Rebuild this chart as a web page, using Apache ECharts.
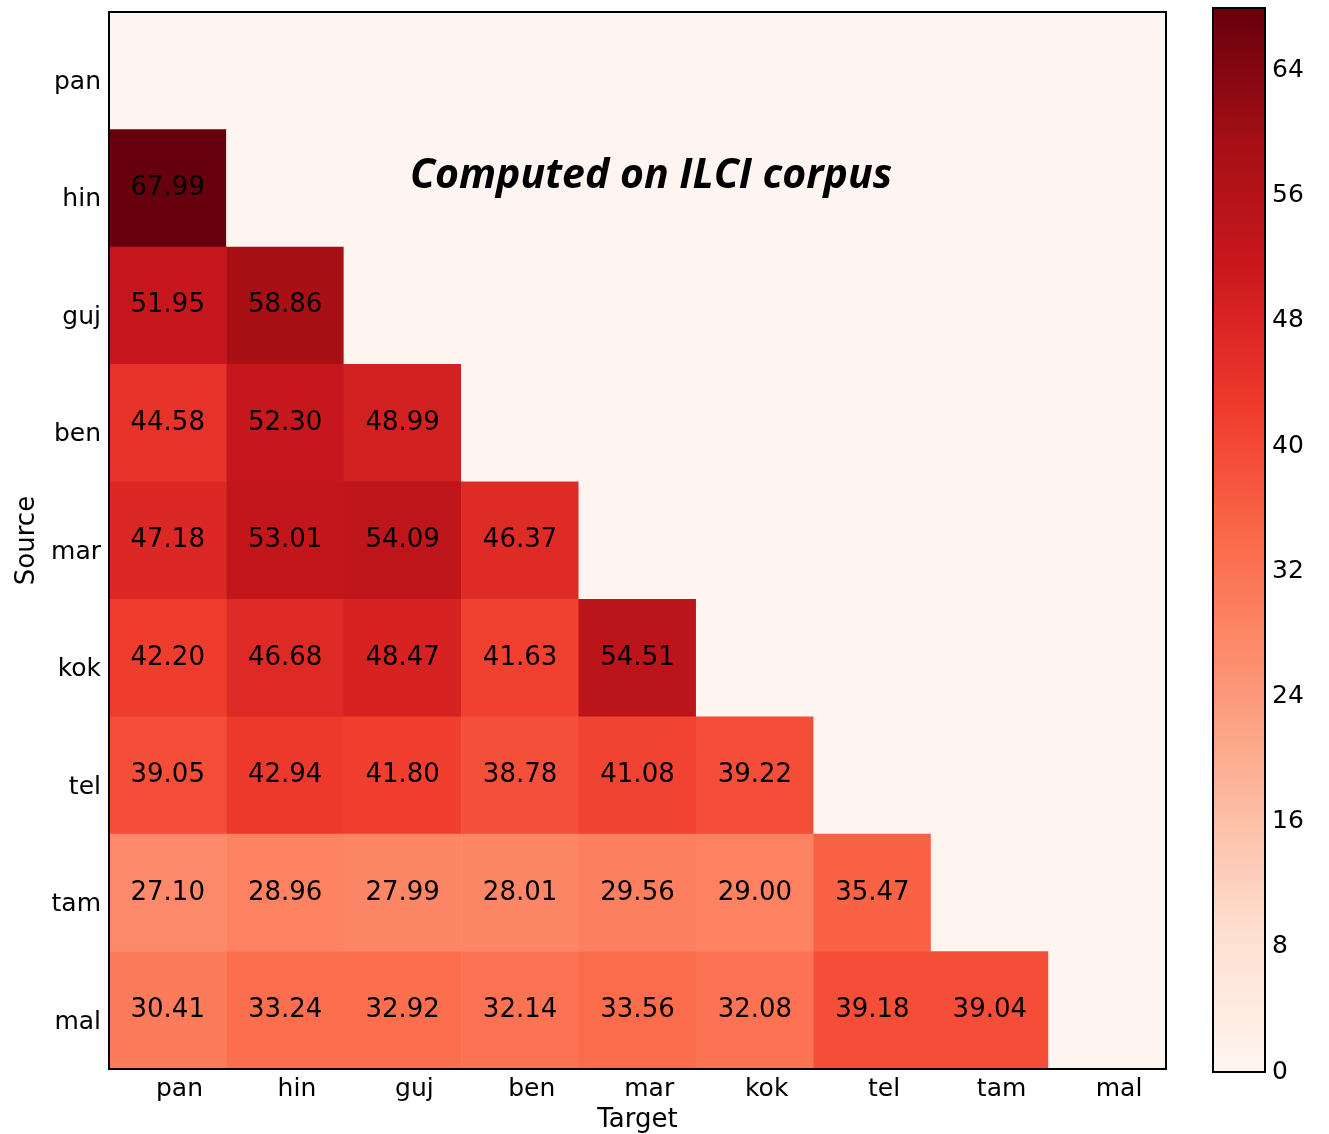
<!DOCTYPE html>
<html>
<head>
<meta charset="utf-8">
<script src="https://cdn.jsdelivr.net/npm/echarts@6/dist/echarts.min.js"></script>
<style>
  html, body { margin: 0; padding: 0; background: #ffffff; }
  #chart { width: 1329px; height: 1134px; }
</style>
</head>
<body>
<div id="chart"></div>
<script>
// Languages, used for both source (rows) and target (columns)
const languages = ['pan', 'hin', 'guj', 'ben', 'mar', 'kok', 'tel', 'tam', 'mal'];

// Scores per source language, one entry per target language before it
const rowPan = [];
const rowHin = [67.99];
const rowGuj = [51.95, 58.86];
const rowBen = [44.58, 52.30, 48.99];
const rowMar = [47.18, 53.01, 54.09, 46.37];
const rowKok = [42.20, 46.68, 48.47, 41.63, 54.51];
const rowTel = [39.05, 42.94, 41.80, 38.78, 41.08, 39.22];
const rowTam = [27.10, 28.96, 27.99, 28.01, 29.56, 29.00, 35.47];
const rowMal = [30.41, 33.24, 32.92, 32.14, 33.56, 32.08, 39.18, 39.04];

// Colour bar tick labels
const colorbarTicks = [0, 8, 16, 24, 32, 40, 48, 56, 64];

const scoreRows = [rowPan, rowHin, rowGuj, rowBen, rowMar, rowKok, rowTel, rowTam, rowMal];

// Full matrix: cells on or above the diagonal hold 0
const cells = [];
let maxScore = 0;
scoreRows.forEach((row, y) => {
  languages.forEach((_, x) => {
    const v = x < row.length ? row[x] : 0;
    maxScore = Math.max(maxScore, v);
    cells.push([x, y, v]);
  });
});

// matplotlib "Reds" colour map
const reds = ['#fff5f0', '#fee0d2', '#fcbba1', '#fc9272', '#fb6a4a',
              '#ef3b2c', '#cb181d', '#a50f15', '#67000d'];

const FONT = 'DejaVu Sans';
const n = languages.length;
const tickIdx = languages.map((_, i) => i);
const nameOf = v => languages[Math.round(v)] || '';

const plot = { left: 109, top: 12, size: 1057 };
const bar = { left: 1213, top: 8, width: 52, height: 1064 };

const tickStyle = { show: true, inside: true, length: 6, lineStyle: { color: '#000', width: 1 } };

// Value axes carry ticks/labels; they sit a tenth of a cell past each cell centre
const valueAxisBase = {
  type: 'value', gridIndex: 0, min: -0.6, max: n - 0.6,
  splitLine: { show: false },
  axisLine: { show: false, onZero: false },
  axisTick: Object.assign({ customValues: tickIdx }, tickStyle)
};

const chart = echarts.init(document.getElementById('chart'), null, { renderer: 'canvas' });

chart.setOption({
  animation: false,
  backgroundColor: '#ffffff',
  textStyle: { fontFamily: FONT },
  grid: [
    { left: plot.left, top: plot.top, width: plot.size, height: plot.size,
      show: true, z: 5, backgroundColor: 'transparent', borderColor: '#000', borderWidth: 2,
      containLabel: false, outerBoundsMode: 'none' },
    { left: bar.left, top: bar.top, width: bar.width, height: bar.height,
      show: true, z: 10, backgroundColor: 'transparent', borderColor: '#000', borderWidth: 2,
      containLabel: false, outerBoundsMode: 'none' }
  ],
  xAxis: [
    { type: 'category', gridIndex: 0, data: languages, position: 'bottom', show: false },
    Object.assign({}, valueAxisBase, {
      position: 'bottom',
      name: 'Target', nameLocation: 'middle', nameGap: 37,
      nameTextStyle: { fontFamily: FONT, fontSize: 26, color: '#000' },
      axisLabel: { show: true, customValues: tickIdx, formatter: nameOf, margin: 8,
                   fontFamily: FONT, fontSize: 25, color: '#000' }
    }),
    Object.assign({}, valueAxisBase, { position: 'top', axisLabel: { show: false } }),
    { type: 'value', gridIndex: 1, show: false, min: 0, max: 1 }
  ],
  yAxis: [
    { type: 'category', gridIndex: 0, data: languages, inverse: true, position: 'left', show: false },
    Object.assign({}, valueAxisBase, {
      position: 'left', inverse: true,
      name: 'Source', nameLocation: 'middle', nameGap: 68,
      nameTextStyle: { fontFamily: FONT, fontSize: 26, color: '#000' },
      axisLabel: { show: true, customValues: tickIdx, formatter: nameOf, margin: 8,
                   fontFamily: FONT, fontSize: 25, color: '#000' }
    }),
    Object.assign({}, valueAxisBase, { position: 'right', inverse: true, axisLabel: { show: false } }),
    { type: 'value', gridIndex: 1, position: 'right', min: 0, max: maxScore,
      splitLine: { show: false },
      axisLine: { show: false, onZero: false },
      axisTick: Object.assign({ customValues: colorbarTicks }, tickStyle),
      axisLabel: { show: true, customValues: colorbarTicks, margin: 7,
                   fontFamily: FONT, fontSize: 25, color: '#000' } }
  ],
  visualMap: {
    type: 'continuous', seriesIndex: 0, dimension: 2,
    min: 0, max: maxScore, calculable: false, realtime: false,
    orient: 'vertical', left: bar.left, top: bar.top, padding: 0,
    itemWidth: bar.width, itemHeight: bar.height,
    text: null, showLabel: false, hoverLink: false,
    inRange: { color: reds }
  },
  graphic: [{
    type: 'text', x: 651, y: 176, z: 20,
    style: {
      text: 'Computed on ILCI corpus', fill: '#000',
      font: 'italic bold 41px "Open Sans"', align: 'center', verticalAlign: 'middle'
    }
  }],
  series: [{
    type: 'heatmap', xAxisIndex: 0, yAxisIndex: 0, data: cells,
    itemStyle: { borderWidth: 0 },
    label: {
      show: true, color: '#000', fontFamily: FONT, fontSize: 26,
      formatter: p => (p.value[2] > 0 ? p.value[2].toFixed(2) : '')
    },
    emphasis: { disabled: true }
  }]
});
</script>
</body>
</html>
